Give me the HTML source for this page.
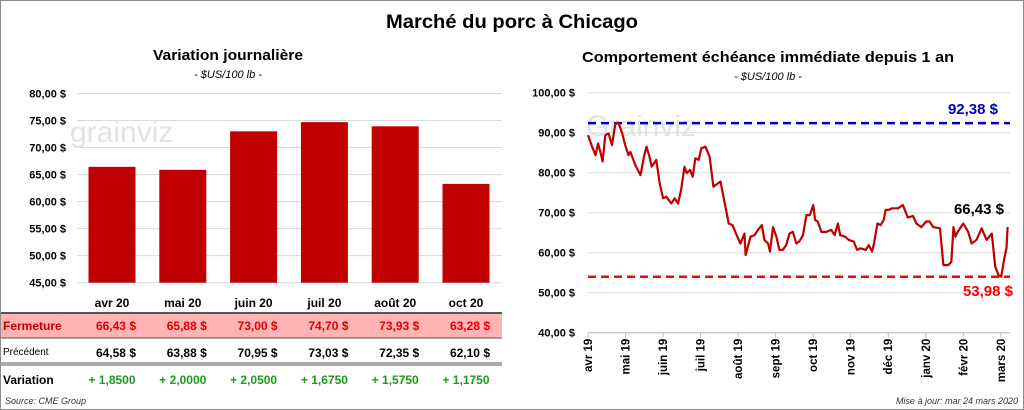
<!DOCTYPE html>
<html><head><meta charset="utf-8"><style>
body{margin:0;background:#fff;font-family:"Liberation Sans",sans-serif;}
#wrap{position:relative;width:1024px;height:410px;overflow:hidden;}
svg text{font-family:"Liberation Sans",sans-serif;}
</style></head><body>
<div id="wrap">
<svg id="s" width="1024" height="410" xmlns="http://www.w3.org/2000/svg">
<rect x="0.5" y="0.5" width="1023" height="409" fill="#fff" stroke="#8c8c8c"/>
<text x="512" y="28" text-anchor="middle" font-size="19" font-weight="bold" textLength="252" lengthAdjust="spacingAndGlyphs">Marché du porc à Chicago</text>
<text x="228" y="60" text-anchor="middle" font-size="15" font-weight="bold" textLength="150" lengthAdjust="spacingAndGlyphs">Variation  journalière</text>
<text x="228" y="78" text-anchor="middle" font-size="11" font-style="italic">- $US/100 lb -</text>
<text x="768" y="62" text-anchor="middle" font-size="15" font-weight="bold" textLength="372" lengthAdjust="spacingAndGlyphs">Comportement  échéance immédiate depuis 1 an</text>
<text x="768" y="80" text-anchor="middle" font-size="11" font-style="italic">- $US/100 lb -</text>
<g id="left"></g><g id="right"></g>
<text x="5" y="404" font-size="9" font-style="italic" fill="#333">Source: CME Group</text>
<text x="1018" y="404" text-anchor="end" font-size="9" font-style="italic" fill="#333">Mise à jour: mar 24 mars 2020</text>
</svg>
</div>
<script>
const barCats=["avr 20","mai 20","juin 20","juil 20","août 20","oct 20"];
const closeVals=[66.43,65.88,73.00,74.70,73.93,63.28];
const prevVals=[64.58,63.88,70.95,73.03,72.35,62.10];
const varLabels=["+ 1,8500","+ 2,0000","+ 2,0500","+ 1,6750","+ 1,5750","+ 1,1750"];
const barTicks=[45,50,55,60,65,70,75,80];
const monthLabels=["avr 19","mai 19","juin 19","juil 19","août 19","sept 19","oct 19","nov 19","déc 19","janv 20","févr 20","mars 20"];
const lineTicks=[40,50,60,70,80,90,100];
const lineMonths=[0,0.11,0.2,0.27,0.33,0.39,0.46,0.55,0.64,0.73,0.82,0.91,0.99,1.08,1.13,1.26,1.4,1.5,1.56,1.64,1.7,1.82,1.91,2.0,2.09,2.22,2.31,2.4,2.48,2.57,2.63,2.72,2.79,2.86,2.95,3.02,3.13,3.24,3.34,3.53,3.75,3.85,3.94,4.06,4.17,4.2,4.33,4.44,4.53,4.63,4.7,4.8,4.85,4.93,5.02,5.1,5.19,5.28,5.37,5.46,5.55,5.63,5.73,5.82,5.91,6.0,6.05,6.12,6.22,6.35,6.48,6.57,6.66,6.72,6.85,6.95,7.08,7.17,7.26,7.4,7.48,7.57,7.62,7.71,7.8,7.88,7.93,8.01,8.1,8.26,8.39,8.52,8.66,8.75,8.88,9.01,9.1,9.2,9.38,9.47,9.6,9.68,9.74,9.79,9.85,10.0,10.13,10.22,10.35,10.49,10.62,10.76,10.85,10.94,11.01,11.1,11.15,11.18,11.24,11.3,11.41];
const lineVals=[89.4,86.5,84.4,87.3,85.2,82.8,89.4,89.8,86.9,92.3,92.3,89.8,86.9,84.4,85.2,81.9,79.4,84.4,86.5,84.0,81.5,83.2,77.3,73.6,74.0,72.3,73.6,72.3,75.7,81.5,79.9,80.7,79.0,83.6,83.2,86.1,86.5,84.0,76.5,77.8,67.3,66.9,64.8,62.3,64.8,59.4,64.0,64.4,65.7,66.9,63.2,62.3,60.3,66.4,64.0,60.7,60.7,61.9,64.8,65.2,62.3,62.8,64.4,69.4,69.4,71.9,68.2,67.8,65.2,65.2,65.7,64.4,67.3,64.4,64.0,63.2,62.8,60.7,61.1,60.7,61.9,60.3,62.3,67.3,66.9,68.2,70.7,70.7,71.1,71.1,71.9,68.8,69.2,67.3,66.4,67.8,67.8,66.4,66.1,56.9,56.9,57.7,66.4,64.0,65.2,67.3,65.2,62.3,63.2,66.1,63.2,64.8,56.5,54.4,54.0,59.0,61.1,66.43];
const maxVal=92.38, minVal=53.98, lastVal=66.43;

const NS="http://www.w3.org/2000/svg";
function mk(parent,tag,attrs,txt){const e=document.createElementNS(NS,tag);for(const k in attrs)e.setAttribute(k,attrs[k]);if(txt!==undefined)e.textContent=txt;parent.appendChild(e);return e;}
const fmt=v=>v.toFixed(2).replace('.',',');

// LEFT BAR CHART
const L=document.getElementById('left');
const by=v=>282.7-(v-45)*(282.7-93.5)/35;
const bx=i=>112+i*70.8;
for(const t of barTicks){
  const g=mk(L,'line',{x1:77,x2:502,y1:by(t),y2:by(t),stroke:'#d9d9d9','stroke-width':1});
  
  const tx=mk(L,'text',{x:66,y:by(t)+4,'text-anchor':'end','font-size':11,'font-weight':'bold'},fmt(t)+' $');
  
}
const wm=mk(L,'text',{x:70,y:142,'font-size':30,fill:'#e3e3e3'},'grainviz');

const pink=mk(L,'rect',{x:1,y:313,width:501,height:25,fill:'#ffb3b3'});

[[313,'#555',2],[338,'#555',1],[363,'#555',1],[365,'#555',1]].forEach(([y,c,w])=>{
  const l=mk(L,'line',{x1:1,x2:502,y1:y,y2:y,stroke:c,'stroke-width':w});
  
});
const rowLbl=[['Fermeture',330,'#c00000','bold',12],['Précédent',355,'#000','normal',10],['Variation',384,'#000','bold',12]];
rowLbl.forEach(([t,y,c,w,s])=>{const e=mk(L,'text',{x:3,y:y,'font-size':s,fill:c,'font-weight':w},t);
  });
barCats.forEach((c,i)=>{
  const x=bx(i);
  const r=mk(L,'rect',{x:x-23.5,y:by(closeVals[i]),width:47,height:by(45)-by(closeVals[i]),fill:'#c00000'});
  
  const cl=mk(L,'text',{x:x,y:307,'text-anchor':'middle','font-size':12,'font-weight':'bold'},c);
  
  const a=mk(L,'text',{x:x+24,y:330,'text-anchor':'end','font-size':12,'font-weight':'bold',fill:'#e00000'},fmt(closeVals[i])+'  $');
  
  const b=mk(L,'text',{x:x+24,y:357,'text-anchor':'end','font-size':12,'font-weight':'bold'},fmt(prevVals[i])+'  $');
  
  const v=mk(L,'text',{x:x,y:384,'text-anchor':'middle','font-size':12,'font-weight':'bold',fill:'#1a9a1a'},varLabels[i]);
  
});

// RIGHT LINE CHART
const R=document.getElementById('right');
const ly=v=>332.7-(v-40)*4;
const lx=m=>588+m*37.53;
for(const t of lineTicks){
  const g=mk(R,'line',{x1:588,x2:1010,y1:ly(t),y2:ly(t),stroke:'#d9d9d9','stroke-width':1});
  
  const tx=mk(R,'text',{x:575,y:ly(t)+4,'text-anchor':'end','font-size':11,'font-weight':'bold'},fmt(t)+' $');
  
}
const wm2=mk(R,'text',{x:586,y:136,'font-size':30,fill:'#e3e3e3'},'Grainviz');

const ax=mk(R,'line',{x1:588,x2:1010,y1:ly(40),y2:ly(40),stroke:'#bfbfbf'});

monthLabels.forEach((m,i)=>{
  const x=lx(i);
  const tk=mk(R,'line',{x1:x,x2:x,y1:ly(40),y2:ly(40)+5,stroke:'#bfbfbf'});
  
  const t=mk(R,'text',{x:0,y:0,'text-anchor':'end','font-size':11.5,'font-weight':'bold',transform:`translate(${x+4},${ly(40)+6}) rotate(-90)`},m);
  
});
const hi=mk(R,'line',{x1:588,x2:1010,y1:ly(maxVal),y2:ly(maxVal),stroke:'#0000c0','stroke-width':2.5,'stroke-dasharray':'8,5'});

const lo=mk(R,'line',{x1:588,x2:1010,y1:ly(minVal),y2:ly(minVal),stroke:'#ff0000','stroke-width':2.5,'stroke-dasharray':'8,5'});

const pts=lineMonths.map((m,i)=>lx(m).toFixed(1)+','+ly(lineVals[i]).toFixed(1)).join(' ');
const pl=mk(R,'polyline',{points:pts,fill:'none',stroke:'#c00000','stroke-width':2.2,'stroke-linejoin':'round'});

const t1=mk(R,'text',{x:998,y:ly(maxVal)-9,'text-anchor':'end','font-size':15,'font-weight':'bold',fill:'#0000c0'},fmt(maxVal)+' $');

const t2=mk(R,'text',{x:1004,y:ly(lastVal)-13,'text-anchor':'end','font-size':15,'font-weight':'bold',fill:'#000'},fmt(lastVal)+' $');

const t3=mk(R,'text',{x:1013,y:ly(minVal)+19,'text-anchor':'end','font-size':15,'font-weight':'bold',fill:'#ff0000'},fmt(minVal)+' $');

</script>
</body></html>
